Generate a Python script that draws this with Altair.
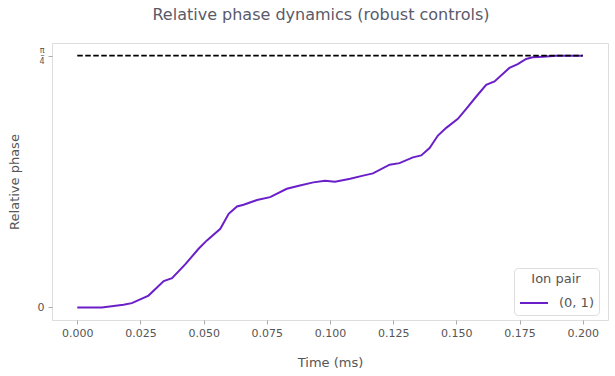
import math
import altair as alt
import pandas as pd

# ---- data ----
time_ms = [0.0, 0.0097, 0.0183, 0.0216, 0.0282, 0.0342, 0.0375, 0.0427, 0.048, 0.0513,
           0.0566, 0.0599, 0.0632, 0.0658, 0.0711, 0.0763, 0.0829, 0.0881, 0.0934, 0.098,
           0.102, 0.108, 0.1131, 0.117, 0.1236, 0.1275, 0.1328, 0.1361, 0.1394, 0.1427,
           0.146, 0.1506, 0.1539, 0.1578, 0.1618, 0.1651, 0.171, 0.1743, 0.1776, 0.1802,
           0.1842, 0.1895, 0.2]
phase = [0.0, 0.0, 0.0084, 0.0134, 0.037, 0.082, 0.091, 0.134, 0.183, 0.209,
         0.245, 0.292, 0.315, 0.320, 0.335, 0.344, 0.370, 0.380, 0.390, 0.395,
         0.392, 0.401, 0.411, 0.418, 0.445, 0.450, 0.468, 0.474, 0.497, 0.536,
         0.560, 0.588, 0.619, 0.657, 0.694, 0.705, 0.747, 0.759, 0.775, 0.780,
         0.782, 0.785, 0.785]
pair_label = "(0, 1)"
target_t = [0.0, 0.2]
target_phase = [math.pi / 4, math.pi / 4]
x_ticks = [0.0, 0.025, 0.05, 0.075, 0.1, 0.125, 0.15, 0.175, 0.2]
y_ticks = [0.0, math.pi / 4]

df = pd.DataFrame({"t": time_ms, "phase": phase, "pair": pair_label})
tgt = pd.DataFrame({"t": target_t, "phase": target_phase})

GRAY = "#555555"
xscale = alt.Scale(domain=[-0.01, 0.21], nice=False, zero=False)
yscale = alt.Scale(domain=[-0.03927, 0.82467], nice=False, zero=False)

xaxis = alt.Axis(title="Time (ms)", values=x_ticks, format=".3f", grid=False,
                 labelFontSize=11, titleFontSize=13, labelPadding=3, titlePadding=18,
                 tickSize=4, labelFlush=False)
yaxis = alt.Axis(title="Relative phase", values=y_ticks, grid=False,
                 labelExpr="datum.value < 0.1 ? '0' : ['π', '–', '4']",
                 labelFontSize={"condition": {"test": "datum.value > 0.1", "value": 8}, "value": 11},
                 labelOffset={"condition": {"test": "datum.value > 0.1", "value": -5.5}, "value": 0},
                 labelLineHeight=5.5,
                 titleFontSize=13, labelPadding=4, titlePadding=16, tickSize=4)

line = alt.Chart(df).mark_line(strokeWidth=2).encode(
    x=alt.X("t:Q", scale=xscale, axis=xaxis),
    y=alt.Y("phase:Q", scale=yscale, axis=yaxis),
    color=alt.Color("pair:N",
                    scale=alt.Scale(domain=[pair_label], range=["#6a1fc9"]),
                    legend=alt.Legend(title="Ion pair", orient="none", legendX=462, legendY=225,
                                      titleFontSize=13, labelFontSize=13, titleAnchor="middle",
                                      titleAlign="center", titleFontWeight="normal",
                                      titlePadding=2,
                                      symbolType="stroke", symbolStrokeWidth=2, symbolSize=784,
                                      padding=5, strokeColor="#dddddd", cornerRadius=4,
                                      fillColor="white", labelOffset=10,
                                      titleColor=GRAY, labelColor=GRAY)),
)

dash = alt.Chart(tgt).mark_line(color="black", strokeDash=[5.5, 2.5], strokeWidth=1.8).encode(
    x=alt.X("t:Q", scale=xscale),
    y=alt.Y("phase:Q", scale=yscale),
)

chart = alt.layer(line, dash).properties(
    width=556, height=277,
    title=alt.TitleParams("Relative phase dynamics (robust controls)", fontSize=16,
                          fontWeight="normal", color="#5a5a6a", anchor="middle", dx=-9, offset=20),
    padding={"left": 52, "top": 43, "right": 7, "bottom": 56},
    autosize=alt.AutoSizeParams(type="none"),
).configure(font="DejaVu Sans").configure_view(
    stroke="#dddddd", strokeWidth=1
).configure_axis(
    domain=False, tickColor="#aaaaaa", labelColor=GRAY, titleColor=GRAY,
    titleFontWeight="normal"
)

chart.save("out.html", embed_options={"renderer": "svg", "actions": False})
